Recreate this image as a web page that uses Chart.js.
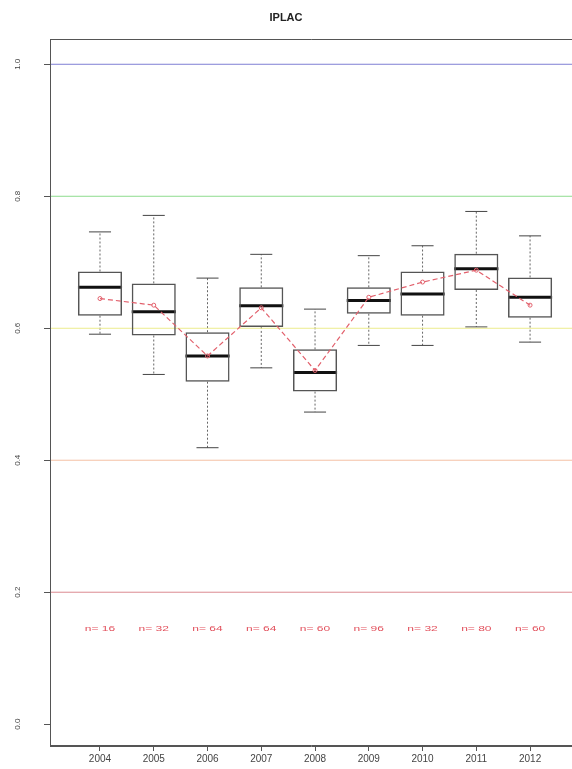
<!DOCTYPE html>
<html>
<head>
<meta charset="utf-8">
<script src="https://cdn.jsdelivr.net/npm/chart.js@4.4.1/dist/chart.umd.min.js"></script>
<style>
  html, body { margin: 0; padding: 0; background: #fff; }
  canvas { display: block; }
</style>
</head>
<body>
<canvas id="boxChart" width="572" height="769"></canvas>
<script>
// values
const years = ['2004', '2005', '2006', '2007', '2008', '2009', '2010', '2011', '2012'];
const positions = [1, 2, 3, 4, 5, 6, 7, 8, 9];
const whiskerLow = [0.591, 0.530, 0.419, 0.540, 0.473, 0.574, 0.574, 0.602, 0.579];
const q1 = [0.619, 0.589, 0.519, 0.602, 0.504, 0.622, 0.619, 0.658, 0.616];
const medians = [0.662, 0.625, 0.558, 0.634, 0.533, 0.642, 0.652, 0.690, 0.647];
const q3 = [0.686, 0.668, 0.594, 0.662, 0.568, 0.662, 0.686, 0.713, 0.677];
const whiskerHigh = [0.746, 0.771, 0.676, 0.712, 0.629, 0.710, 0.725, 0.777, 0.740];
const means = [0.645, 0.635, 0.558, 0.631, 0.536, 0.647, 0.670, 0.688, 0.635];
const counts = [16, 32, 64, 64, 60, 96, 32, 80, 60];
const yTicks = [0, 0.2, 0.4, 0.6, 0.8, 1.0];
const refLevels = [1.0, 0.8, 0.6, 0.4, 0.2];
const refColors = ['#7f7fd4', '#8edc8e', '#ecec8c', '#f4c0a4', '#dc8a90'];
const countLevel = 0.145;

const xMin = 0.07, xMax = 9.78;
const yMin = -0.033, yMax = 1.038;
const boxWidth = 0.82;
const fontFamily = "'Liberation Sans', Arial, sans-serif";

const refDatasets = refLevels.map((lvl, i) => ({
    type: 'line',
    data: [{ x: xMin, y: lvl }, { x: xMax, y: lvl }],
    borderColor: refColors[i],
    borderWidth: 1,
    pointRadius: 0,
    order: 3
}));

// whiskers and medians, drawn through the chart scales
const boxExtras = {
    id: 'boxExtras',
    beforeDatasetsDraw(chart) {
        const xs = chart.scales.x, ys = chart.scales.y;
        const ctx = chart.ctx;
        ctx.save();
        positions.forEach((p, i) => {
            const cx = xs.getPixelForValue(p);
            const sl = xs.getPixelForValue(p - boxWidth / 4);
            const sr = xs.getPixelForValue(p + boxWidth / 4);
            const bl = xs.getPixelForValue(p - boxWidth / 2);
            const br = xs.getPixelForValue(p + boxWidth / 2);
            ctx.strokeStyle = '#666';
            ctx.lineWidth = 1;
            ctx.setLineDash([2, 2]);
            ctx.beginPath();
            ctx.moveTo(cx, ys.getPixelForValue(q3[i]));
            ctx.lineTo(cx, ys.getPixelForValue(whiskerHigh[i]));
            ctx.moveTo(cx, ys.getPixelForValue(q1[i]));
            ctx.lineTo(cx, ys.getPixelForValue(whiskerLow[i]));
            ctx.stroke();
            ctx.setLineDash([]);
            ctx.strokeStyle = '#444';
            ctx.beginPath();
            ctx.moveTo(sl, ys.getPixelForValue(whiskerHigh[i]));
            ctx.lineTo(sr, ys.getPixelForValue(whiskerHigh[i]));
            ctx.moveTo(sl, ys.getPixelForValue(whiskerLow[i]));
            ctx.lineTo(sr, ys.getPixelForValue(whiskerLow[i]));
            ctx.stroke();
            ctx.strokeStyle = '#111';
            ctx.lineWidth = 3;
            ctx.beginPath();
            ctx.moveTo(bl, ys.getPixelForValue(medians[i]));
            ctx.lineTo(br, ys.getPixelForValue(medians[i]));
            ctx.stroke();
        });
        ctx.restore();
    },
    afterDatasetsDraw(chart) {
        const xs = chart.scales.x, ys = chart.scales.y;
        const ctx = chart.ctx;
        ctx.save();
        ctx.fillStyle = '#e2505c';
        ctx.font = '8px ' + fontFamily;
        ctx.textAlign = 'center';
        ctx.textBaseline = 'middle';
        positions.forEach((p, i) => {
            ctx.save();
            ctx.translate(xs.getPixelForValue(p), ys.getPixelForValue(countLevel));
            ctx.scale(1.5, 1);
            ctx.fillText('n= ' + counts[i], 0, 0);
            ctx.restore();
        });
        ctx.restore();
    },
    afterDraw(chart) {
        // plot frame: the right side falls outside the picture
        const a = chart.chartArea;
        const ctx = chart.ctx;
        const l = Math.round(a.left) + 0.5, t = Math.round(a.top) + 0.5;
        const b = Math.round(a.bottom) - 0.5, r = chart.width + 2;
        ctx.save();
        ctx.strokeStyle = '#555';
        ctx.lineWidth = 1;
        ctx.beginPath();
        ctx.moveTo(r, t);
        ctx.lineTo(l, t);
        ctx.lineTo(l, b);
        ctx.lineTo(r, b);
        ctx.stroke();
        ctx.restore();
    }
};

new Chart(document.getElementById('boxChart').getContext('2d'), {
    type: 'bar',
    data: {
        datasets: [
            {
                type: 'line',
                data: positions.map((p, i) => ({ x: p, y: means[i] })),
                borderColor: '#e2606c',
                borderWidth: 1.2,
                borderDash: [5, 3],
                pointRadius: 2,
                pointBackgroundColor: 'rgba(0,0,0,0)',
                pointBorderColor: '#e2606c',
                pointBorderWidth: 1,
                order: 0
            },
            {
                type: 'bar',
                data: positions.map((p, i) => ({ x: p, y: [q1[i], q3[i]] })),
                backgroundColor: 'rgba(255,255,255,0)',
                borderColor: '#555',
                borderWidth: 1.5,
                borderSkipped: false,
                barPercentage: boxWidth,
                categoryPercentage: 1,
                order: 1
            },
            ...refDatasets
        ]
    },
    options: {
        responsive: false,
        animation: false,
        layout: { padding: 0, autoPadding: false },
        plugins: {
            legend: { display: false },
            tooltip: { enabled: false },
            title: {
                display: true,
                text: 'IPLAC',
                color: '#222',
                font: { family: fontFamily, size: 11, weight: 'bold' },
                padding: { top: 11, bottom: 15 }
            }
        },
        scales: {
            x: {
                type: 'linear',
                min: xMin,
                max: xMax,
                offset: false,
                afterBuildTicks: s => { s.ticks = positions.map(v => ({ value: v })); },
                afterFit: s => { s.height = 23; s.paddingLeft = 0; s.paddingRight = 0; },
                ticks: {
                    callback: v => years[positions.indexOf(v)],
                    color: '#444',
                    font: { family: fontFamily, size: 10 },
                    padding: 2,
                    maxRotation: 0,
                    autoSkip: false
                },
                grid: { drawOnChartArea: false, offset: false, tickLength: 5, color: '#555' },
                border: { display: true, color: '#555' }
            },
            y: {
                min: yMin,
                max: yMax,
                afterBuildTicks: s => { s.ticks = yTicks.map(v => ({ value: v })); },
                afterFit: s => { s.width = 50; s.paddingTop = 0; s.paddingBottom = 0; },
                ticks: {
                    callback: v => v.toFixed(1),
                    color: '#444',
                    font: { family: fontFamily, size: 8 },
                    minRotation: 90,
                    maxRotation: 90,
                    crossAlign: 'center',
                    padding: 21
                },
                grid: { drawOnChartArea: false, tickLength: 6, color: '#555' },
                border: { display: true, color: '#555' }
            }
        }
    },
    plugins: [boxExtras]
});
</script>
</body>
</html>
